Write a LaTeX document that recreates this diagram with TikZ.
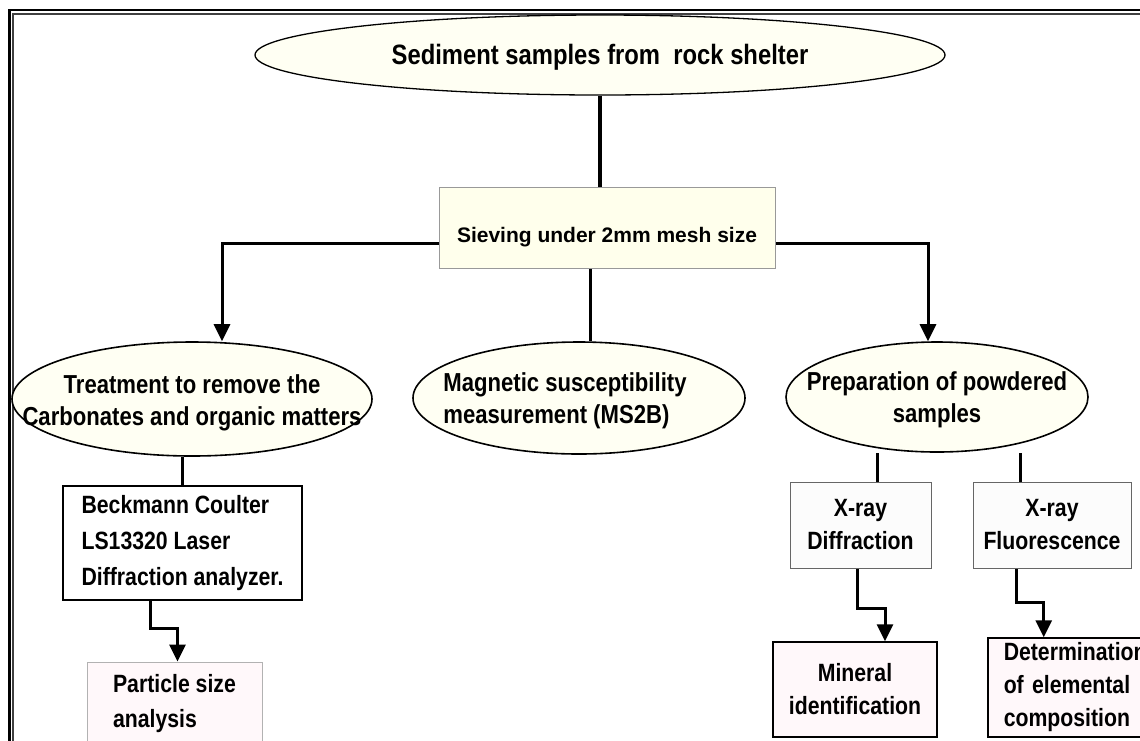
\documentclass[tikz,border=0pt]{standalone}
\usepackage{fontspec}
\setmainfont{Liberation Sans}
\newfontfamily\nf{Liberation Sans}[FakeStretch=0.85]
\usetikzlibrary{shapes.geometric,arrows.meta,backgrounds}
\definecolor{ivoryfill}{HTML}{FFFFF3}
\definecolor{sievefill}{HTML}{FFFFEC}
\definecolor{pinkfill}{HTML}{FFF8FA}
\definecolor{boxgray}{HTML}{FCFCFC}
\tikzset{
  ell/.style={ellipse, draw, line width=1.6pt, fill=ivoryfill, inner sep=0pt},
  ellfont/.style={font=\nf\bfseries\fontsize{26}{32}\selectfont},
  boxfont/.style={font=\nf\bfseries\fontsize{25}{33}\selectfont},
  conn/.style={line width=3pt},
  arr/.style={conn, -{Triangle[width=16pt,length=17pt]}},
  pinkbox/.style={fill=pinkfill, inner sep=0pt},
  graybox/.style={fill=boxgray, draw=black!60, line width=1pt, inner sep=0pt, align=center, boxfont}
}
\begin{document}
\begin{tikzpicture}[x=1pt,y=-1pt]
\useasboundingbox (0,0) rectangle (1140,740);
% frame
\draw[line width=2.5pt] (9.3,760) -- (9.3,10.2) -- (1160,10.2);
\draw[line width=1.8pt, black!75] (13.2,760) -- (13.2,14) -- (1160,14);

\node[ell, line width=1.3pt, minimum width=690pt, minimum height=80pt,
      label={[font=\nf\bfseries\fontsize{28}{32}\selectfont, yshift=-2pt]center:{Sediment samples from\ \ rock shelter}}]
      (title) at (600,55) {};
\node[draw=black!40, line width=0.8pt, fill=sievefill, minimum width=336pt,
      minimum height=81pt, inner sep=0pt,
      label={[font=\bfseries\fontsize{21}{25}\selectfont, yshift=-10pt]center:{Sieving under 2mm mesh size}}]
      (sieve) at (607,227.5) {};

\node[ell, minimum width=360pt, minimum height=114pt,
      label={[ellfont, align=center, yshift=-4pt]center:{Treatment to remove the\\Carbonates and organic matters}}]
      (treat) at (192,399) {};
\node[ell, minimum width=332pt, minimum height=112pt,
      label={[ellfont, align=left, xshift=-14pt, yshift=-3pt]center:{Magnetic susceptibility\\measurement (MS2B)}}]
      (mag) at (579,398) {};
\node[ell, minimum width=302pt, minimum height=110pt,
      label={[ellfont, align=center, yshift=-3pt]center:{Preparation of powdered\\samples}}]
      (prep) at (937,397) {};

\node[draw, line width=1.5pt, fill=white, minimum width=239pt, minimum height=114pt,
      inner sep=0pt, align=left, font=\nf\bfseries\fontsize{25}{36}\selectfont]
      (beck) at (182.5,543) {Beckmann Coulter\\LS13320 Laser\\Diffraction analyzer.};
\node[pinkbox, draw=black!30, line width=1pt, minimum width=175pt, minimum height=83pt,
      align=left, font=\nf\bfseries\fontsize{25}{35}\selectfont]
      (part) at (174.5,703.5) {Particle size\\analysis};

\node[graybox, minimum width=141pt, minimum height=86pt] (xrd) at (860.5,525) {X-ray\\Diffraction};
\node[graybox, minimum width=158pt, minimum height=86pt] (xrf) at (1052,525) {X-ray\\Fluorescence};

\node[pinkbox, draw, line width=1.5pt, minimum width=164pt, minimum height=95pt,
      align=center, boxfont] (mineral) at (855,689.5) {Mineral\\identification};
\node[pinkbox, draw, line width=1.5pt, anchor=west, text width=150pt, inner xsep=16pt,
      minimum height=99pt, align=left, boxfont] (det) at (987,687.5)
      {Determination\\of elemental\\composition};

\begin{scope}[on background layer]
\draw[line width=4pt] (title.south) -- (title.south |- sieve.north);
\draw[arr] ([yshift=-15.5pt]sieve.west) -| ([xshift=30pt]treat.north);
\draw[arr] ([yshift=-15.5pt]sieve.east) -| ([xshift=-9pt]prep.north);
\draw[conn] ([xshift=-17pt]sieve.south) -- ([xshift=-17pt]sieve.south |- mag.north);
\draw[conn] (beck.north) -- (beck.north |- treat.south);
\draw[arr] ([xshift=-32pt]beck.south) |- ([xshift=3pt,yshift=33pt]part.north) -- ([xshift=3pt]part.north);
\draw[conn] ([xshift=16.5pt]xrd.north) -- ([xshift=16.5pt]xrd.north |- prep.south);
\draw[conn] ([xshift=-32pt]xrf.north) -- ([xshift=-32pt]xrf.north |- prep.south);
\draw[arr] ([xshift=-3.5pt]xrd.south) |- ([xshift=30pt,yshift=33pt]mineral.north) -- ([xshift=30pt]mineral.north);
\draw[arr] ([xshift=-36pt]xrf.south) |- ([xshift=-35pt,yshift=35pt]det.north) -- ([xshift=-35pt]det.north);
\end{scope}
\end{tikzpicture}
\end{document}
